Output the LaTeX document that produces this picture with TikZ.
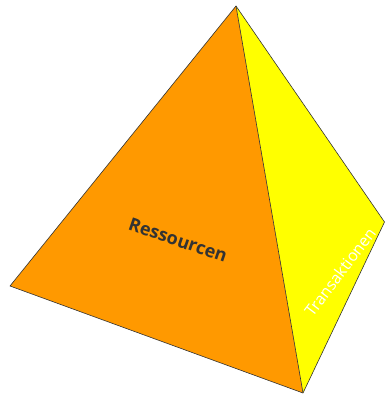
\documentclass[tikz,border=0pt]{standalone}
\usepackage{fontspec}
\setmainfont{Open Sans}
\definecolor{pyrorange}{HTML}{FF9900}
\definecolor{pyryellow}{HTML}{FFFF00}
\definecolor{edgegray}{HTML}{333333}
\begin{document}
\begin{tikzpicture}[x=1pt,y=-1pt,
  face/.style={draw=edgegray,line width=0.6pt,line join=round},
  facelabel/.style={inner sep=0pt,font=\fontsize{17}{17}\selectfont}]
\useasboundingbox (0,0) rectangle (385,395);
\coordinate (apex) at (236,6);
\coordinate (left) at (10,286);
\coordinate (bottom) at (303,393);
\coordinate (right) at (384.5,222);
\fill[pyryellow] (apex) -- (right) -- (bottom) -- cycle;
\fill[pyrorange] (apex) -- (bottom) -- (left) -- cycle;
\draw[face] (left) -- (apex) -- (right) -- (bottom) -- cycle;
\draw[face] (apex) -- (bottom);
\node[facelabel,font=\fontsize{18}{18}\selectfont\bfseries,text=edgegray,rotate=-19] (res) at (178,240) {Ressourcen};
\node[facelabel,font=\fontsize{16}{16}\selectfont,text=white,rotate=53] (tra) at (340,272) {Transaktionen};
\end{tikzpicture}
\end{document}
